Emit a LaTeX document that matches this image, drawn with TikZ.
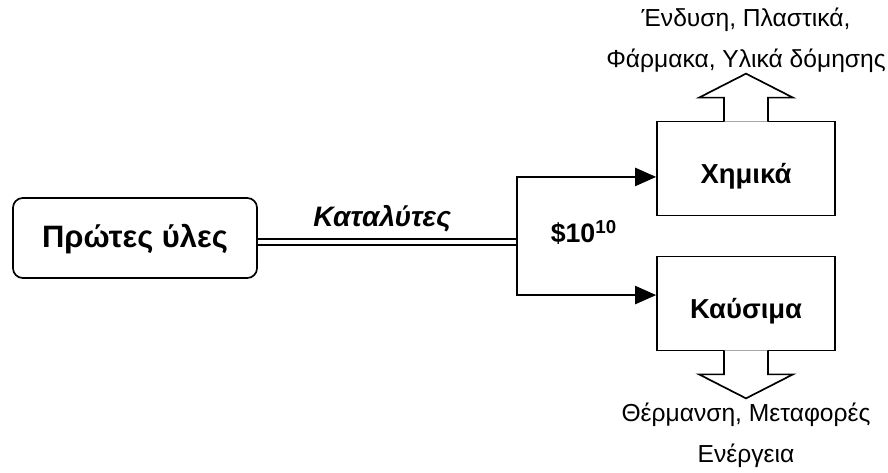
\documentclass[tikz,border=0pt]{standalone}
\usepackage{fontspec}
\setmainfont{Liberation Sans}
\usetikzlibrary{positioning, arrows.meta}

\tikzset{
	box/.style={draw, line width=1.2pt, minimum width=4.45cm, minimum height=2.35cm,
		text height=22pt, text depth=0pt, font=\bfseries\fontsize{19.5}{23}\selectfont},
	feedbox/.style={box, rounded corners=7pt, minimum width=6.1cm, minimum height=2cm,
		text height=18pt, text depth=4pt, font=\bfseries\fontsize{22}{26}\selectfont},
	flow/.style={line width=1.2pt, -{Triangle[length=15pt, width=13pt]}},
	uses/.style={align=center, inner sep=0pt, font=\fontsize{17.5}{29}\selectfont},
	outarrow/.pic={
		\draw[line width=1.2pt, fill=white] (-22,1) -- (-22,-23) -- (-47,-23) -- (0,-47)
			-- (47,-23) -- (22,-23) -- (22,1);
	}
}

\begin{document}
\begin{tikzpicture}[x=0.025cm, y=-0.025cm]
			\useasboundingbox (0,0) rectangle (888,473);
			\node[feedbox] (raw) at (135,238) {Πρώτες ύλες};
			\coordinate (split) at (517,242);
			\node[box] (chem) at (746,168.5) {Χημικά};
			\node[box] (fuel) at (746,303.5) {Καύσιμα};
			% catalytic route
			\draw[double, double distance=3.5pt, line width=1.1pt] (raw.east |- split) -- node[pos=0.48, above=3pt,
				font=\bfseries\itshape\fontsize{20}{24}\selectfont] (cat) {Καταλύτες} (split);
			\node[right=0.72cm of split, yshift=7pt, font=\bfseries\fontsize{19}{23}\selectfont] (cost) {\$10\textsuperscript{10}};
			\draw[flow] (split) |- ([yshift=-6pt]chem.west);
			\draw[flow] (split) |- ([yshift=6pt]fuel.west);
			% products
			\pic at (chem.north) {outarrow};
			\pic[rotate=180] at (fuel.south) {outarrow};
			\node[uses, above=1.2cm of chem.north] (apps) {Ένδυση, Πλαστικά,\\Φάρμακα, Υλικά δόμησης};
			\node[uses, below=1.28cm of fuel.south] (energy) {Θέρμανση, Μεταφορές\\Ενέργεια};
		\end{tikzpicture}
\end{document}
